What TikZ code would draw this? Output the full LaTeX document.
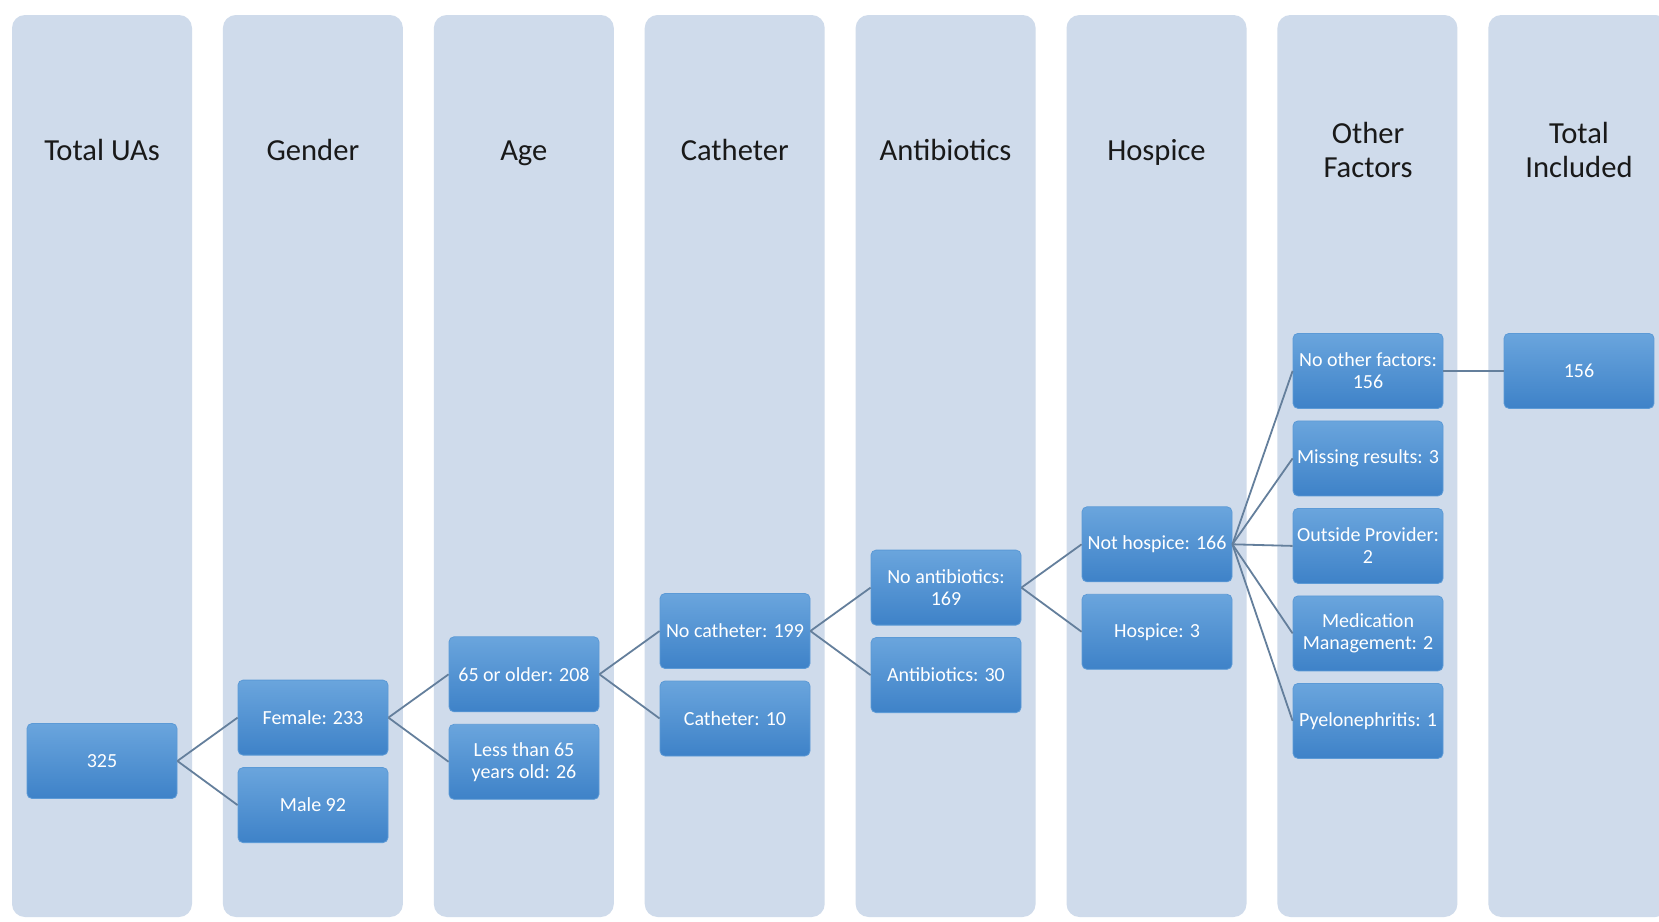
\documentclass[tikz,border=0pt]{standalone}
\usepackage{fontspec}
\setmainfont{Carlito}
\usetikzlibrary{positioning}
\definecolor{colfill}{HTML}{CFDBEB}
\definecolor{boxtop}{HTML}{6AA5DD}
\definecolor{boxbot}{HTML}{3E82C8}
\definecolor{boxedge}{HTML}{5C9AD6}
\definecolor{linkcol}{HTML}{647F9C}

\begin{document}
\begin{tikzpicture}[
  x=0.5pt, y=-0.5pt,
  node distance=5.85pt,
  column/.style={fill=colfill, rounded corners=6.5pt},
  header/.style={align=center, font=\fontsize{15.3}{17}\selectfont, text=black!90},
  box/.style={rectangle, rounded corners=2.5pt, top color=boxtop, bottom color=boxbot, draw=boxedge, line width=0.4pt, minimum width=75pt, minimum height=37.5pt, inner sep=1pt, align=center, text=white, font=\fontsize{10}{11}\selectfont},
  link/.style={draw=linkcol, line width=0.9pt}
]
  \useasboundingbox (0,0) rectangle (1659,921);
  \clip (0,0) rectangle (1659,921);
  \fill[white] (0,0) rectangle (1659,921);

  % columns and their titles
  \foreach \i in {0,...,7}
    \fill[column] (12+210.9*\i,15) rectangle ++(180,902);
  \foreach \i/\name in {0/Total UAs, 1/Gender, 2/Age, 3/Catheter, 4/Antibiotics, 5/Hospice}
    \node[header, text height=0.7em, text depth=0.2em] (h\i) at (102+210.9*\i,155) {\name};
  \node[header] (h6) at (1368,150) {Other\\Factors};
  \node[header] (h7) at (1579,150) {Total\\Included};

  \node[box] (total) at (102,761) {325};
  \node[box] (female) at (313,717.6) {Female: 233};
  \node[box, below=of female] (male) {Male 92};
  \node[box] (older) at (524,674.3) {65 or older: 208};
  \node[box, below=of older] (younger) {Less than 65\\years old: 26};
  \node[box] (nocath) at (735,631) {No catheter: 199};
  \node[box, below=of nocath] (cath) {Catheter: 10};
  \node[box] (noabx) at (946,587.6) {No antibiotics:\\169};
  \node[box, below=of noabx] (abx) {Antibiotics: 30};
  \node[box] (nothosp) at (1157,544.3) {Not hospice: 166};
  \node[box, below=of nothosp] (hosp) {Hospice: 3};
  \node[box] (noother) at (1368,370.9) {No other factors:\\156};
  \node[box, below=of noother] (missing) {Missing results: 3};
  \node[box, below=of missing] (outside) {Outside Provider:\\2};
  \node[box, below=of outside] (medmgmt) {Medication\\Management: 2};
  \node[box, below=of medmgmt] (pyelo) {Pyelonephritis: 1};
  \node[box] (included) at (1579,370.9) {156};

  \draw[link] (total.east) -- (female.west);
  \draw[link] (total.east) -- (male.west);
  \draw[link] (female.east) -- (older.west);
  \draw[link] (female.east) -- (younger.west);
  \draw[link] (older.east) -- (nocath.west);
  \draw[link] (older.east) -- (cath.west);
  \draw[link] (nocath.east) -- (noabx.west);
  \draw[link] (nocath.east) -- (abx.west);
  \draw[link] (noabx.east) -- (nothosp.west);
  \draw[link] (noabx.east) -- (hosp.west);
  \foreach \k in {noother, missing, outside, medmgmt, pyelo}
    \draw[link] (nothosp.east) -- (\k.west);
  \draw[link] (noother.east) -- (included.west);
\end{tikzpicture}
\end{document}
